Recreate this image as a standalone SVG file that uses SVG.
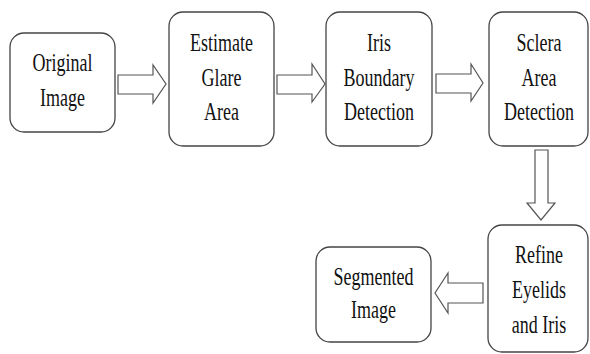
<svg xmlns="http://www.w3.org/2000/svg" width="590" height="354" viewBox="0 0 590 354">
<style>
.box{fill:#fff;stroke:#444;stroke-width:1.3}
.arr{fill:#fff;stroke:#555;stroke-width:1.2;stroke-linejoin:miter}
.t{font-family:'Liberation Serif','Times New Roman','DejaVu Serif',serif;font-size:25px;fill:#111;text-anchor:middle}
</style>
<rect width="590" height="354" fill="#fff"/>
<g id="connectors">
<polygon class="arr" points="118,75 153,75 153,65 166,84 153,103 153,94 118,94"/>
<polygon class="arr" points="277,75 312,75 312,64 325,84 312,102 312,94 277,94"/>
<polygon class="arr" points="436,74 471,74 471,64 483,83 471,101 471,93 436,93"/>
<polygon class="arr" points="535,150 548,150 548,203 555,203 541,220 527,203 535,203"/>
<polygon class="arr" points="483,283 448,283 448,273 435,293 448,313 448,303 483,303"/>
</g>
<g id="original">
<rect class="box" x="10" y="33" width="105" height="99" rx="14"/>
<text class="t" font-family="Liberation Serif, serif" transform="translate(62.5,71) scale(0.72,1)">Original</text>
<text class="t" font-family="Liberation Serif, serif" transform="translate(62.5,106) scale(0.72,1)">Image</text>
</g>
<g id="glare">
<rect class="box" x="169" y="12" width="105" height="134" rx="14"/>
<text class="t" transform="translate(221.5,51) scale(0.72,1)">Estimate</text>
<text class="t" transform="translate(221.5,86) scale(0.72,1)">Glare</text>
<text class="t" transform="translate(221.5,120) scale(0.72,1)">Area</text>
</g>
<g id="iris">
<rect class="box" x="326" y="12" width="106" height="134" rx="14"/>
<text class="t" transform="translate(379,51) scale(0.72,1)">Iris</text>
<text class="t" transform="translate(379,86) scale(0.72,1)">Boundary</text>
<text class="t" transform="translate(379,120) scale(0.72,1)">Detection</text>
</g>
<g id="sclera">
<rect class="box" x="489" y="12" width="99" height="134" rx="14"/>
<text class="t" transform="translate(539,51) scale(0.72,1)">Sclera</text>
<text class="t" transform="translate(539,86) scale(0.72,1)">Area</text>
<text class="t" transform="translate(539,120) scale(0.72,1)">Detection</text>
</g>
<g id="refine">
<rect class="box" x="488" y="225" width="100" height="127" rx="14"/>
<text class="t" transform="translate(539,263) scale(0.72,1)">Refine</text>
<text class="t" transform="translate(539,298) scale(0.72,1)">Eyelids</text>
<text class="t" transform="translate(539,333) scale(0.72,1)">and Iris</text>
</g>
<g id="segmented">
<rect class="box" x="316" y="247" width="115" height="95" rx="14"/>
<text class="t" transform="translate(373.5,285) scale(0.72,1)">Segmented</text>
<text class="t" transform="translate(373.5,318) scale(0.72,1)">Image</text>
</g>
</svg>
